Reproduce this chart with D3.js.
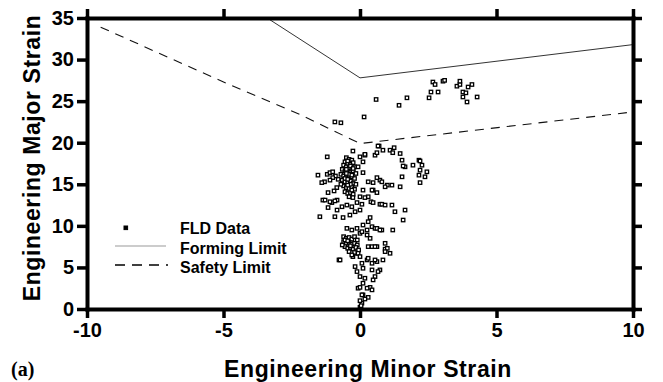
<!DOCTYPE html>
<html>
<head>
<meta charset="utf-8">
<script src="https://cdn.jsdelivr.net/npm/d3@7"></script>
<style>
  html, body { margin: 0; padding: 0; background: #fff; }
</style>
</head>
<body>
<div id="chart"></div>
<script>
// chart size
const width = 663;
const height = 382;
const margin = { top: 18, right: 30, bottom: 73, left: 87 };
const sans = "Arial, 'Liberation Sans', sans-serif";

// axis ticks
const xTicks = [-10, -5, 0, 5, 10];
const yTicks = [0, 5, 10, 15, 20, 25, 30, 35];

// limit curves (minor, major)
const formingMinor = [-3.4, 0, 10];
const formingMajor = [35, 27.8, 31.8];
const safetyMinor = [-9.5, -5, -2.2, 0, 10];
const safetyMajor = [33.9, 27.3, 23.4, 19.9, 23.7];

// measured strains [minor, major]
const fldUpper = [
  [-0.92, 22.5], [-0.7, 22.4], [0.15, 23.1], [0.59, 25.2], [1.43, 24.5], [1.72, 25.4],
  [2.53, 25.4], [2.6, 26.1], [2.86, 26.1], [2.67, 27.3], [2.75, 27.0], [3.04, 27.4],
  [3.1, 27.5], [3.55, 26.8], [3.66, 27.0], [3.66, 27.4], [3.96, 26.7], [4.1, 27.0],
  [3.77, 26.1], [3.88, 26.0], [3.77, 25.5], [3.92, 24.9], [4.29, 25.5]
];
const fldMid = [
  [0.7, 19.6], [1.1, 19.1], [1.25, 19.4], [1.2, 18.8], [1.47, 18.7], [-0.26, 19.0],
  [0.18, 18.5], [0.55, 18.5], [-1.2, 18.3], [1.54, 17.9], [1.65, 17.1], [1.94, 17.3],
  [2.16, 17.9], [2.2, 16.7], [2.45, 16.5], [2.16, 16.1], [2.38, 15.9], [1.54, 15.9],
  [1.47, 14.7], [1.0, 14.9], [0.92, 14.7], [0.48, 15.2], [0.73, 15.5], [1.17, 12.5],
  [0.73, 12.6], [0.4, 12.9], [0.07, 12.6], [0.84, 19.1], [1.58, 17.2], [2.27, 17.3],
  [2.2, 15.2], [1.17, 14.9], [0.8, 15.3], [0.48, 14.3], [2.2, 17.8], [0.66, 19.6],
  [0, 18.3], [0.18, 18.6], [0.62, 18.8], [0.11, 17.7], [-0.07, 17.1], [0.11, 16.4],
  [0.3, 15.3], [0.62, 15.8], [0.44, 14.3], [0.11, 14.3], [0.62, 14.0], [0.3, 13.5]
];
const fldCore = [
  [-0.5, 18.2], [-0.4, 18.0], [-0.3, 17.9], [-0.55, 17.7], [-0.45, 17.5], [-0.35, 17.4],
  [-0.25, 17.6], [-0.6, 17.3], [-0.5, 17.1], [-0.4, 17.0], [-0.3, 16.9], [-0.2, 17.1],
  [-0.65, 16.8], [-0.55, 16.6], [-0.45, 16.5], [-0.35, 16.4], [-0.25, 16.6], [-0.15, 16.3],
  [-0.7, 16.2], [-0.6, 16.0], [-0.5, 15.9], [-0.4, 15.8], [-0.3, 15.9], [-0.2, 15.7],
  [-0.65, 15.5], [-0.55, 15.3], [-0.45, 15.2], [-0.35, 15.4], [-0.25, 15.1], [-0.15, 15.0],
  [-0.6, 14.8], [-0.5, 14.6], [-0.4, 14.5], [-0.3, 14.7], [-0.2, 14.4], [-0.55, 14.1],
  [-0.45, 13.9], [-0.35, 14.0], [-0.25, 13.8], [-0.4, 13.5], [-0.7, 15.0], [-0.8, 15.6],
  [-0.9, 16.0], [-1.0, 15.8], [-1.1, 15.5], [-1.2, 16.2], [-1.3, 15.3], [-0.85, 14.6],
  [-0.95, 14.2], [-1.54, 16.1], [-1.4, 15.2], [-1.36, 13.1], [-1.1, 16.4], [-1.0, 16.5],
  [-1.17, 14.0], [-1.03, 12.8], [-0.84, 13.1], [-1.47, 11.1], [-0.92, 11.1], [-0.77, 5.9],
  [-0.45, 17.8], [-0.35, 17.2], [-0.5, 16.8], [-0.4, 16.2], [-0.3, 16.1], [-0.55, 15.7],
  [-0.45, 15.6], [-0.35, 15.0], [-0.45, 14.9], [-0.3, 14.3], [-0.5, 16.3], [-0.25, 16.9]
];
const fldLower = [
  [-1.28, 13.1], [-1.1, 12.9], [-0.92, 13.0], [-1.17, 12.2], [-0.84, 11.9], [-0.66, 12.3],
  [-0.48, 12.5], [-0.3, 12.3], [-0.11, 12.8], [-0.26, 13.4], [0, 13.5], [0.18, 13.4],
  [-0.62, 11.0], [-0.37, 11.3], [-0.18, 11.7], [0, 11.9], [0.37, 11.0], [0.3, 10.5],
  [0.11, 10.1], [0.44, 9.9], [0.55, 9.7], [-0.48, 9.7], [-0.3, 9.5], [-0.11, 9.7],
  [0, 9.1], [0.26, 8.9], [0.37, 8.5], [0.62, 7.5], [0.44, 7.5], [-0.11, 6.7],
  [0.48, 12.8], [0.8, 12.6], [0.92, 12.5], [1.28, 11.7], [1.65, 11.9], [1.58, 10.7],
  [0.8, 9.5], [1.2, 9.5], [0.62, 9.7], [0.55, 7.5], [0.92, 7.9], [0.92, 7.2],
  [1.1, 6.7], [1.0, 7.3], [0.3, 7.5], [0.73, 9.5], [0.26, 9.5], [0.07, 9.3]
];
const fldBlob = [
  [-0.6, 8.7], [-0.5, 8.5], [-0.4, 8.6], [-0.3, 8.4], [-0.2, 8.7], [-0.1, 8.3],
  [-0.6, 8.1], [-0.5, 7.9], [-0.4, 8.0], [-0.3, 7.8], [-0.2, 7.9], [-0.1, 7.7],
  [-0.55, 7.5], [-0.45, 7.3], [-0.35, 7.4], [-0.25, 7.2], [-0.15, 7.4], [-0.05, 7.1],
  [-0.4, 6.9], [-0.2, 6.8], [-0.65, 7.7], [-0.55, 8.3], [-0.45, 8.2], [-0.35, 7.6]
];
const fldTail = [
  [-0.73, 5.9], [-0.26, 6.3], [-0.07, 6.7], [0.07, 5.5], [0.26, 5.9], [0.44, 5.5],
  [0.62, 5.7], [0.84, 5.9], [0.92, 6.9], [0.73, 4.7], [0.55, 3.9], [0, 3.9],
  [-0.11, 4.5], [0.11, 3.1], [0.37, 2.6], [-0.07, 2.5], [0.11, 1.7], [0.3, 1.4],
  [0.07, 0.7], [0, 0.2], [-0.3, 6.5], [0, 6.3], [0.3, 6.1], [0.55, 5.9],
  [-0.18, 5.1], [0.11, 4.9], [0.44, 4.7], [0.66, 4.5], [0.18, 3.7], [0.48, 3.5],
  [0, 2.6], [0.26, 2.5], [0.44, 2.3], [0.07, 1.7], [0.18, 1.2], [0, 1.0], [0.04, 0.4]
];

const fldData = [].concat(fldUpper, fldMid, fldCore, fldLower, fldBlob, fldTail);

const svg = d3.select("#chart")
  .append("svg")
  .attr("width", width)
  .attr("height", height);

const x = d3.scaleLinear().domain([-10, 10]).range([margin.left, width - margin.right]);
const y = d3.scaleLinear().domain([0, 35]).range([height - margin.bottom, margin.top]);

// plot area clip
svg.append("clipPath").attr("id", "plot")
  .append("rect")
  .attr("x", margin.left).attr("y", margin.top)
  .attr("width", width - margin.left - margin.right)
  .attr("height", height - margin.top - margin.bottom);

const line = d3.line().x(d => x(d[0])).y(d => y(d[1]));

// forming limit
svg.append("path")
  .datum(d3.zip(formingMinor, formingMajor))
  .attr("clip-path", "url(#plot)")
  .attr("d", line)
  .attr("fill", "none")
  .attr("stroke", "#333")
  .attr("stroke-width", 1);

// safety limit
svg.append("path")
  .datum(d3.zip(safetyMinor, safetyMajor))
  .attr("d", line)
  .attr("fill", "none")
  .attr("stroke", "#111")
  .attr("stroke-width", 1.1)
  .attr("stroke-dasharray", "9,7");

// data points
const s = 3.4;
svg.append("g")
  .selectAll("rect")
  .data(fldData)
  .join("rect")
  .attr("x", d => x(d[0]) - s / 2)
  .attr("y", d => y(d[1]) - s / 2)
  .attr("width", s)
  .attr("height", s)
  .attr("fill", "#fff")
  .attr("stroke", "#000")
  .attr("stroke-width", 1.3);

// axes (mirrored frame, ticks outward)
function styleAxis(g) {
  g.select(".domain").attr("stroke-width", 4).attr("stroke-linecap", "square");
  g.selectAll(".tick line").attr("stroke-width", 3.5);
  g.selectAll(".tick text")
    .style("font-size", "20px")
    .style("font-weight", "bold")
    .style("font-family", sans);
}

svg.append("g")
  .attr("transform", `translate(0,${height - margin.bottom})`)
  .call(d3.axisBottom(x).tickValues(xTicks).tickSize(9).tickSizeOuter(0).tickPadding(5).tickFormat(d => String(d)))
  .call(styleAxis);

svg.append("g")
  .attr("transform", `translate(0,${margin.top})`)
  .call(d3.axisTop(x).tickValues(xTicks).tickSize(9).tickSizeOuter(0).tickFormat(""))
  .call(styleAxis);

svg.append("g")
  .attr("transform", `translate(${margin.left},0)`)
  .call(d3.axisLeft(y).tickValues(yTicks).tickSize(10).tickSizeOuter(0).tickPadding(3).tickFormat(d => String(d)))
  .call(styleAxis);

svg.append("g")
  .attr("transform", `translate(${width - margin.right},0)`)
  .call(d3.axisRight(y).tickValues(yTicks).tickSize(9).tickSizeOuter(0).tickFormat(""))
  .call(styleAxis);

// axis titles
svg.append("text")
  .attr("x", 368)
  .attr("y", 377)
  .attr("text-anchor", "middle")
  .style("font-family", sans)
  .style("font-size", "23px")
  .style("font-weight", "bold")
  .style("letter-spacing", "0.6px")
  .text("Engineering Minor Strain");

svg.append("text")
  .attr("transform", "translate(40,158) rotate(-90)")
  .attr("text-anchor", "middle")
  .style("font-family", sans)
  .style("font-size", "23px")
  .style("font-weight", "bold")
  .style("letter-spacing", "0.6px")
  .text("Engineering Major Strain");

svg.append("text")
  .attr("x", 11)
  .attr("y", 376)
  .style("font-family", "'Liberation Serif', 'DejaVu Serif', serif")
  .style("font-size", "20px")
  .style("font-weight", "bold")
  .text("(a)");

// legend
const legend = svg.append("g");
legend.append("rect")
  .attr("x", 124).attr("y", 226).attr("width", 3.6).attr("height", 3.6)
  .attr("fill", "#000").attr("stroke", "#000");
legend.append("line")
  .attr("x1", 115).attr("x2", 166).attr("y1", 246).attr("y2", 246)
  .attr("stroke", "#999").attr("stroke-width", 1);
legend.append("line")
  .attr("x1", 115).attr("x2", 168).attr("y1", 265).attr("y2", 265)
  .attr("stroke", "#000").attr("stroke-width", 1.3)
  .attr("stroke-dasharray", "10,7");

const legendLabels = ["FLD Data", "Forming Limit", "Safety Limit"];
legend.selectAll("text.lab")
  .data(legendLabels)
  .join("text")
  .attr("class", "lab")
  .attr("x", 180)
  .attr("y", (d, i) => 234 + i * 19.5)
  .style("font-family", sans)
  .style("font-size", "16px")
  .style("font-weight", "bold")
  .text(d => d);
</script>
</body>
</html>
